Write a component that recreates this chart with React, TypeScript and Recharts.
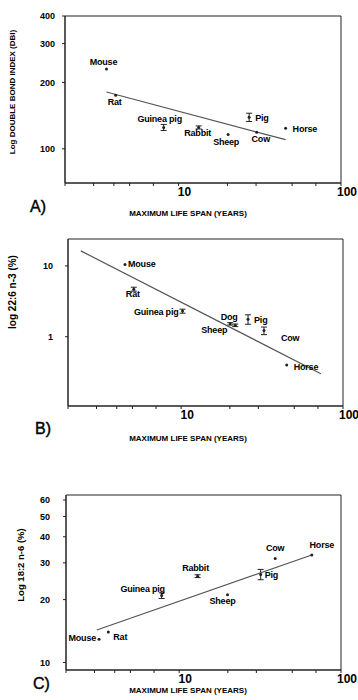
import React from "react";
import { ScatterChart, Scatter, XAxis, YAxis, ErrorBar, ReferenceArea } from "recharts";

const FONT = "'Liberation Sans', Arial, sans-serif";

const spanTicks = [2, 3, 4, 5, 6, 7, 8, 9, 10, 20, 30, 40, 50, 60, 70, 80, 90, 100];

// A) double bond index
const speciesA = ["Mouse", "Rat", "Guinea pig", "Rabbit", "Sheep", "Pig", "Cow", "Horse"];
const lifespanA = [3.6, 4.1, 8.1, 13.3, 20.2, 27.2, 30.3, 45.6];
const dbiA = [230, 175, 125, 125, 116, 139, 119, 124];
const dbiErrA = [0, 0, 4, 2, 0, 6, 0, 0];
const fitSpanA = [3.6, 45.6];
const fitDbiA = [181, 110];
const dbiTicks = [100, 200, 300, 400];

// B) 22:6 n-3
const speciesB = ["Mouse", "Rat", "Guinea pig", "Dog", "Sheep", "Pig", "Cow", "Horse"];
const lifespanB = [4.5, 5.1, 10.2, 20.1, 21.6, 25.9, 32.5, 44.9];
const dhaB = [10.5, 4.7, 2.3, 1.52, 1.45, 1.77, 1.22, 0.4];
const dhaErrB = [0, 0.3, 0.15, 0.06, 0.06, 0.27, 0.15, 0];
const fitSpanB = [2.4, 73];
const fitDhaB = [16.3, 0.3];
const dhaTicks = [1, 10];

// C) 18:2 n-6
const speciesC = ["Mouse", "Rat", "Guinea pig", "Rabbit", "Sheep", "Pig", "Cow", "Horse"];
const lifespanC = [3.2, 3.65, 7.8, 13, 19.9, 31.9, 39.2, 66];
const laC = [12.9, 14.0, 20.9, 25.9, 21.1, 26.4, 31.5, 32.7];
const laErrC = [0, 0, 0.65, 0.4, 0, 1.5, 0, 0];
const fitSpanC = [3.1, 66];
const fitLaC = [14.3, 32.7];
const laTicks = [10, 20, 30, 40, 50, 60];

// label placement: dx, dy, anchor
const placeA: Record<string, [number, number, string]> = {
  Mouse: [-3, -7, "middle"],
  Rat: [-1, 7, "middle"],
  "Guinea pig": [-4, -8, "middle"],
  Rabbit: [-1, 6, "middle"],
  Sheep: [-2, 7, "middle"],
  Pig: [6, 1, "start"],
  Cow: [4, 7, "middle"],
  Horse: [7, 1, "start"],
};
const placeB: Record<string, [number, number, string]> = {
  Mouse: [3, 0, "start"],
  Rat: [-1, 5, "middle"],
  "Guinea pig": [-4, 1, "end"],
  Dog: [-1, -7, "middle"],
  Sheep: [-21, 5, "middle"],
  Pig: [6, 1, "start"],
  Cow: [17, 7, "start"],
  Horse: [7, 2, "start"],
};
const placeC: Record<string, [number, number, string]> = {
  Mouse: [-3, -1, "end"],
  Rat: [5, 5, "start"],
  "Guinea pig": [-19, -7, "middle"],
  Rabbit: [-2, -8, "middle"],
  Sheep: [-5, 6, "middle"],
  Pig: [4, 1, "start"],
  Cow: [0, -10, "middle"],
  Horse: [10, -10, "middle"],
};

const build = (names: string[], xs: number[], ys: number[], errs: number[]) =>
  names.map((n, i) => ({ name: n, x: xs[i], y: ys[i], err: errs[i] }));
const buildFit = (xs: number[], ys: number[]) => xs.map((x, i) => ({ x, y: ys[i] }));

const XTick = (props: any) => {
  const { x, y, payload } = props;
  const v = payload.value;
  if (v !== 10 && v !== 100) return <g />;
  return (
    <text x={x + 6} y={y + 8} textAnchor="middle" fontSize={12} fontWeight="bold" fontFamily={FONT} fill="#000">
      {v}
    </text>
  );
};

function Panel(props: any) {
  const { top, height, margin, yWidth, xHeight, yDomain, yTicks, yMargin, points, fit, place } = props;
  return (
    <div style={{ position: "absolute", left: 0, top, width: 358, height }}>
      <ScatterChart width={358} height={height} margin={margin}>
        <ReferenceArea x1={2} x2={100} y1={yDomain[0]} y2={yDomain[1]} fill="none" stroke="#222" strokeWidth={1} ifOverflow="visible" />
        <XAxis
          dataKey="x"
          type="number"
          scale="log"
          domain={[2, 100]}
          ticks={spanTicks}
          tick={<XTick />}
          tickSize={3}
          height={xHeight}
          stroke="#222"
          allowDataOverflow
        />
        <YAxis
          dataKey="y"
          type="number"
          scale="log"
          domain={yDomain}
          ticks={yTicks}
          width={yWidth}
          tickSize={3}
          tickMargin={yMargin}
          stroke="#222"
          tick={{ fontSize: 9, fontWeight: "bold", fill: "#000", fontFamily: FONT }}
          allowDataOverflow
        />
        <Scatter
          data={fit}
          line={{ stroke: "#555", strokeWidth: 1.2 }}
          shape={() => <g />}
          isAnimationActive={false}
        />
        <Scatter
          data={points}
          isAnimationActive={false}
          shape={(p: any) => {
            const pl = place[p.payload.name];
            return (
              <g>
                <circle cx={p.cx} cy={p.cy} r={1.5} fill="#222" />
                <text
                  x={p.cx + pl[0]}
                  y={p.cy + pl[1]}
                  textAnchor={pl[2]}
                  dominantBaseline="central"
                  fontSize={9}
                  fontWeight="bold"
                  fontFamily={FONT}
                  letterSpacing={-0.2}
                  fill="#000"
                >
                  {p.payload.name}
                </text>
              </g>
            );
          }}
        >
          <ErrorBar dataKey="err" direction="y" width={3} strokeWidth={1} stroke="#222" />
        </Scatter>
      </ScatterChart>
    </div>
  );
}

const abs = (x: number, y: number, extra: any = {}) => ({
  position: "absolute" as const,
  left: x,
  top: y,
  fontFamily: FONT,
  fontWeight: "bold" as const,
  color: "#000",
  whiteSpace: "nowrap" as const,
  ...extra,
});

const YTitle = ({ x, y, size, text }: any) => (
  <div style={abs(x, y, { fontSize: size, transform: "translate(-50%, -50%) rotate(-90deg)" })}>{text}</div>
);
const XTitle = ({ y, text }: any) => (
  <div style={abs(188, y, { fontSize: 8, transform: "translate(-50%, -50%)" })}>{text}</div>
);
const Letter = ({ x, y, text }: any) => (
  <div style={abs(x, y, { fontSize: 16, fontWeight: "normal", transform: "translate(0, -50%)", WebkitTextStroke: "0.4px #000" })}>{text}</div>
);

export default function App() {
  return (
    <div style={{ position: "absolute", left: 0, top: 0, width: 358, height: 700, background: "#fff" }}>
      <Panel
        top={0}
        height={225}
        margin={{ top: 16, right: 17, bottom: 12, left: 0 }}
        yWidth={65}
        xHeight={30}
        yDomain={[70, 400]}
        yTicks={dbiTicks}
        yMargin={7}
        points={build(speciesA, lifespanA, dbiA, dbiErrA)}
        fit={buildFit(fitSpanA, fitDbiA)}
        place={placeA}
      />
      <Panel
        top={225}
        height={225}
        margin={{ top: 14, right: 15, bottom: 14, left: 0 }}
        yWidth={68}
        xHeight={30}
        yDomain={[0.105, 24]}
        yTicks={dhaTicks}
        yMargin={12}
        points={build(speciesB, lifespanB, dhaB, dhaErrB)}
        fit={buildFit(fitSpanB, fitDhaB)}
        place={placeB}
      />
      <Panel
        top={460}
        height={240}
        margin={{ top: 35, right: 17, bottom: 10, left: 0 }}
        yWidth={66}
        xHeight={20}
        yDomain={[9.2, 63.4]}
        yTicks={laTicks}
        yMargin={13}
        points={build(speciesC, lifespanC, laC, laErrC)}
        fit={buildFit(fitSpanC, fitLaC)}
        place={placeC}
      />
      <YTitle x={12} y={92} size={8} text="Log DOUBLE BOND INDEX (DBI)" />
      <YTitle x={12} y={292} size={10} text="log 22:6 n-3 (%)" />
      <YTitle x={20} y={565} size={9.5} text="Log 18:2 n-6 (%)" />
      <XTitle y={213} text="MAXIMUM LIFE SPAN (YEARS)" />
      <XTitle y={438} text="MAXIMUM LIFE SPAN (YEARS)" />
      <XTitle y={690} text="MAXIMUM LIFE SPAN (YEARS)" />
      <Letter x={30} y={207} text="A)" />
      <Letter x={35} y={429} text="B)" />
      <Letter x={33} y={684} text="C)" />
    </div>
  );
}
